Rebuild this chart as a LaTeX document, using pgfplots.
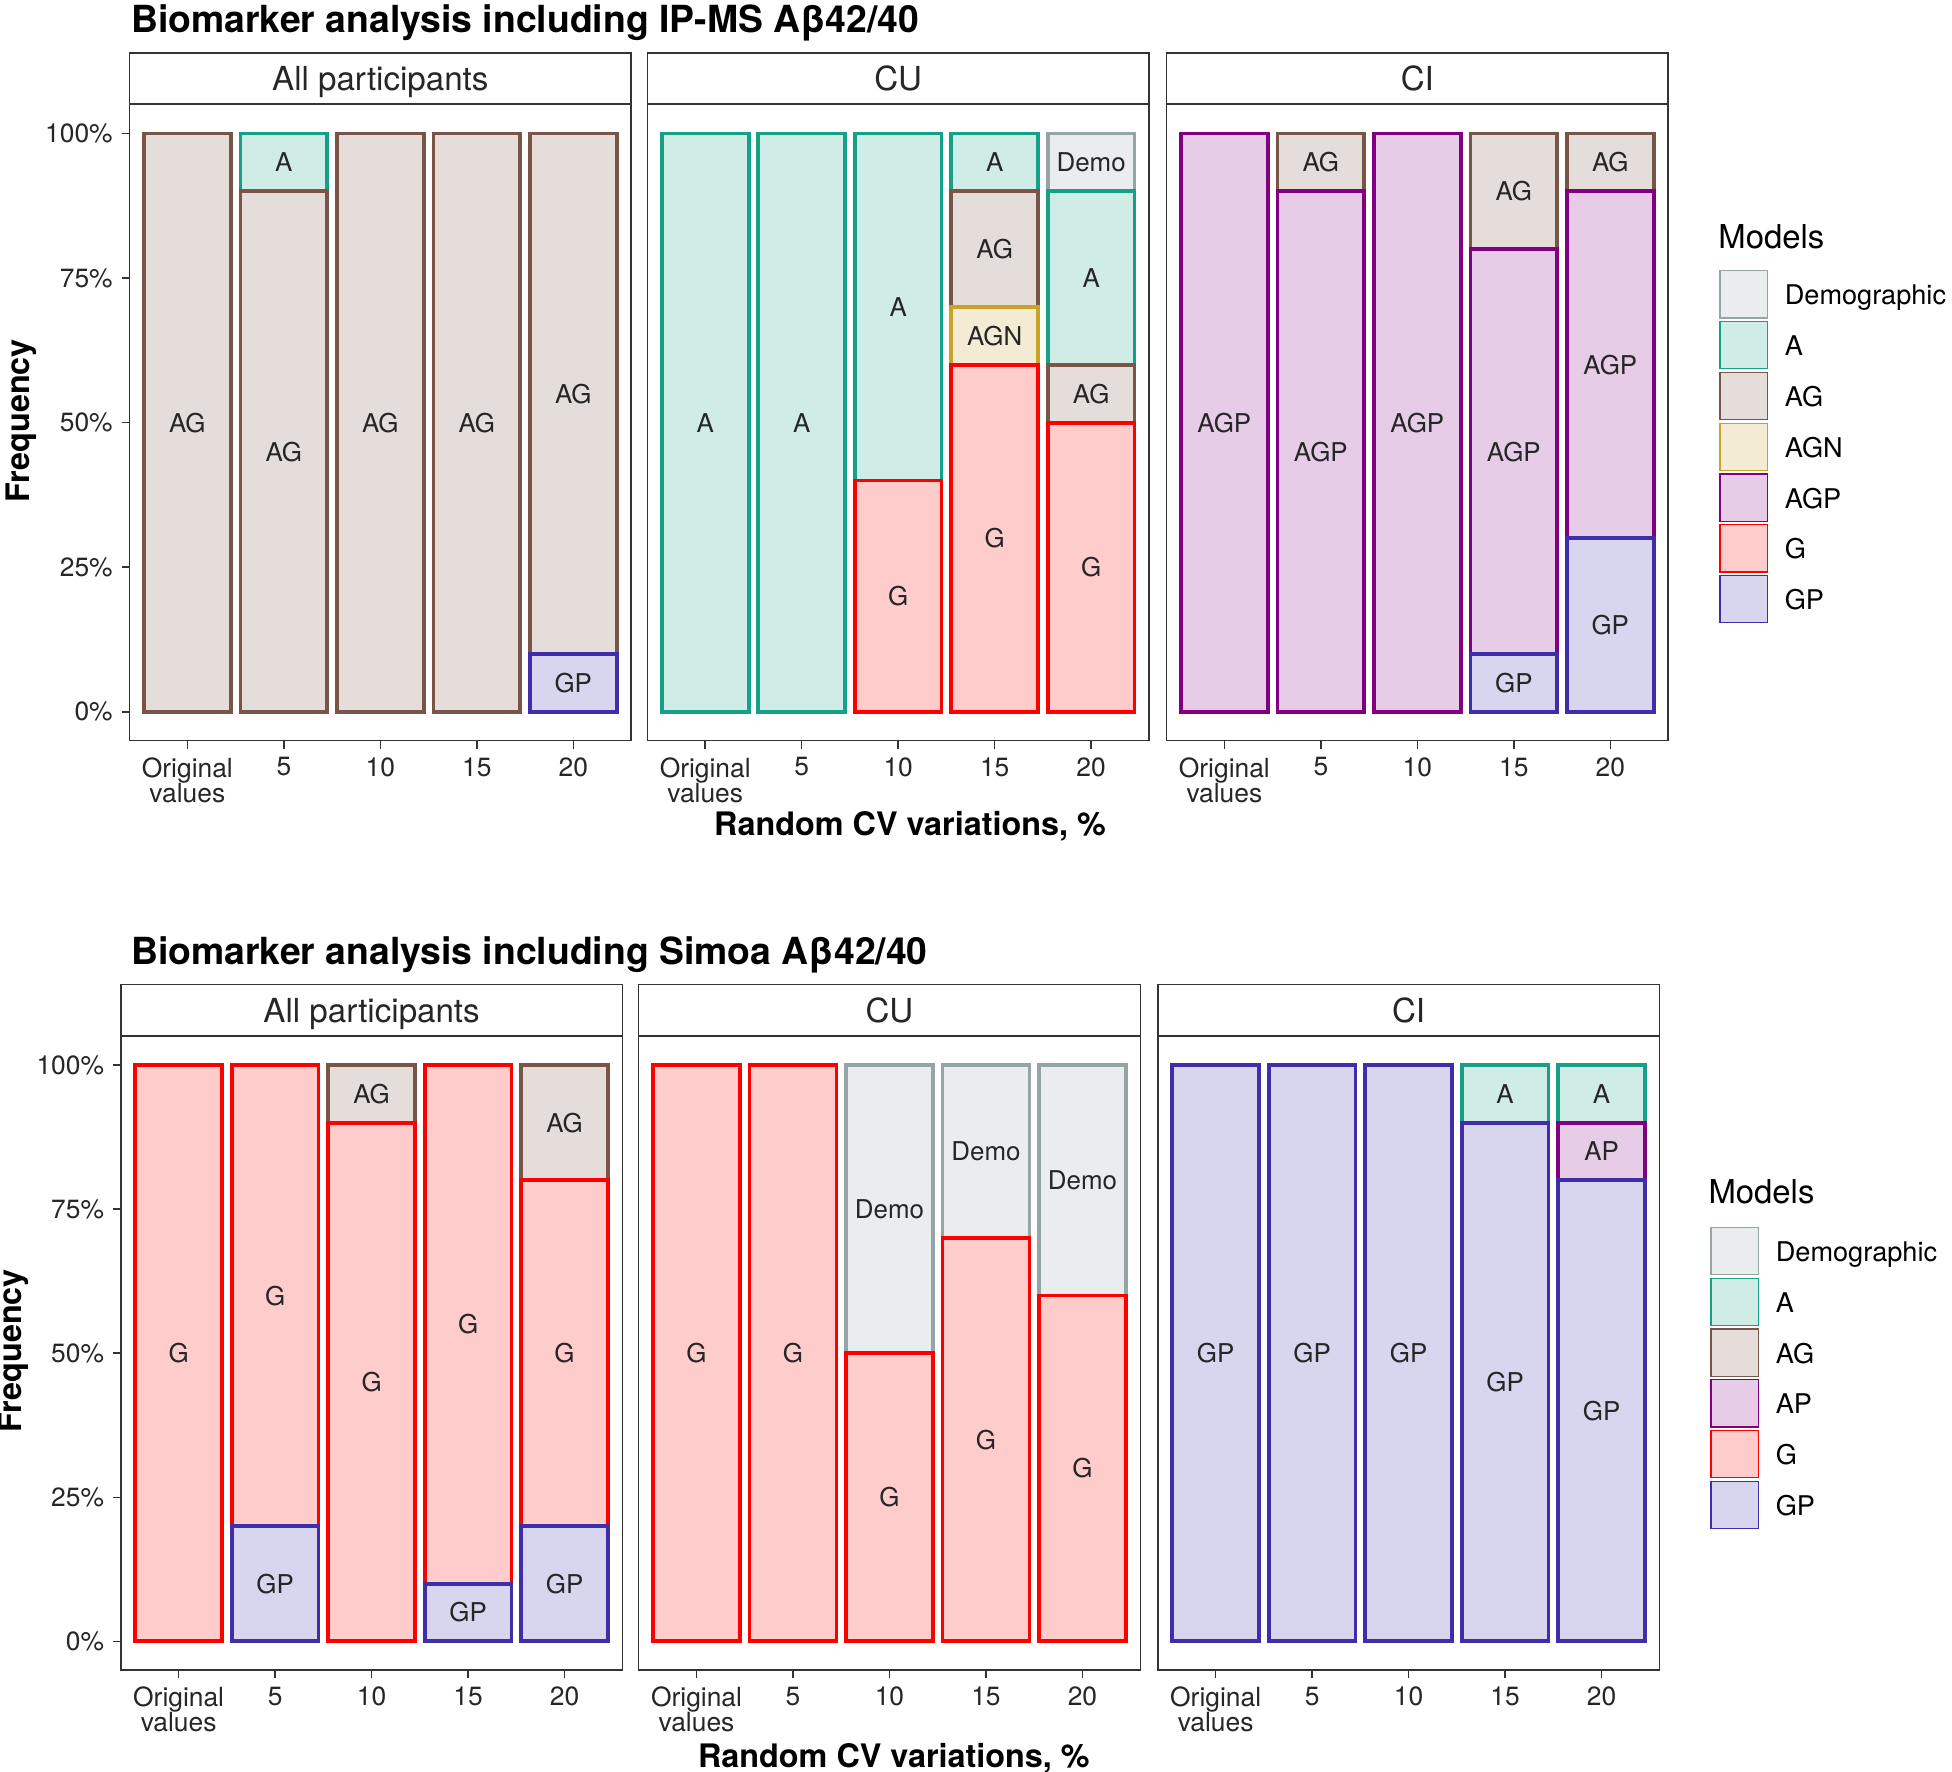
\documentclass[border=0pt]{standalone}
\usepackage{fontspec}
\setmainfont{TeX Gyre Heros}
\usepackage{pgfplots}
\pgfplotsset{compat=1.18}

% model colours: border and light fill
\definecolor{cDemo}{HTML}{95A5A6}\definecolor{fDemo}{HTML}{EAEDED}
\definecolor{cA}{HTML}{16A085}\definecolor{fA}{HTML}{D0ECE6}
\definecolor{cAG}{HTML}{795548}\definecolor{fAG}{HTML}{E4DDDA}
\definecolor{cAGN}{HTML}{C9A227}\definecolor{fAGN}{HTML}{F3EBD4}
\definecolor{cAGP}{HTML}{800080}\definecolor{fAGP}{HTML}{E6CCE6}
\definecolor{cG}{HTML}{FF0000}\definecolor{fG}{HTML}{FFCCCC}
\definecolor{cGP}{HTML}{3F2DAA}\definecolor{fGP}{HTML}{D8D5EE}
\definecolor{frame}{HTML}{333333}
\definecolor{ticktext}{HTML}{262626}

\newcommand{\fs}[1]{\fontsize{#1}{#1}\selectfont}
\newcommand{\tickfont}{\fontsize{10.6}{10}\selectfont\lineskiplimit=-10pt\relax}

\pgfplotsset{
  panel/.style={
    scale only axis, width=201.5pt, anchor=north west,
    xmin=0.4, xmax=5.6, ymin=-0.05, ymax=1.05,
    xtick={1,2,3,4,5}, xticklabels={{Original\\values},5,10,15,20},
    xticklabel style={align=center, text=ticktext, font=\tickfont},
    yticklabel style={font=\fs{10.6}, text=ticktext},
    tick pos=left, tick align=outside, major tick length=3.2pt,
    axis line style={draw=frame, line width=0.6pt},
    tick style={draw=frame, line width=0.6pt},
    every axis title shift=0pt,
    title style={draw=frame, fill=white, line width=0.6pt, minimum width=201.5pt,
      minimum height=20.4pt, inner sep=0pt, anchor=south, at={(0.5,1)}, yshift=0pt,
      text height=9.6pt, text depth=0pt, font=\fs{13.3}, text=ticktext},
    clip=false,
  },
  leftpanel/.style={panel, ytick={0,0.25,0.5,0.75,1},
    yticklabels={0\%,25\%,50\%,75\%,100\%}},
  innerpanel/.style={panel, ytick=\empty},
  seg/.style={ybar, bar width=0.9, bar shift=0pt, line width=1.5pt},
  sDemo/.style={seg, draw=cDemo, fill=fDemo},
  sA/.style={seg, draw=cA, fill=fA},
  sAG/.style={seg, draw=cAG, fill=fAG},
  sAGN/.style={seg, draw=cAGN, fill=fAGN},
  sAGP/.style={seg, draw=cAGP, fill=fAGP},
  sG/.style={seg, draw=cG, fill=fG},
  sGP/.style={seg, draw=cGP, fill=fGP},
  lab/.style={only marks, mark=none, point meta=explicit symbolic,
    nodes near coords, nodes near coords align={center},
    nodes near coords style={font=\fs{10.4}, text=ticktext}},
  keys/.style={
    legend image code/.code={\draw[##1, line width=0.5pt] (0pt,-8.6pt) rectangle (19pt,10.4pt);},
    legend style={at={(1,1)}, anchor=north west, draw=none, fill=none,
      inner sep=0pt, row sep=0.9pt, column sep=6.8pt,
      font=\fs{10.9}, nodes={inner sep=0pt}},
    legend cell align=left,
  },
}

\begin{document}
\begin{tikzpicture}[txt/.style={inner sep=0pt}]
\useasboundingbox (0pt,0pt) rectangle (784pt,-711.5pt);

% ---------------- IP-MS ----------------
\node[txt, anchor=base west, font=\bfseries\fs{15}] at (52.5pt,-12.9pt) {Biomarker analysis including IP-MS Aβ42/40};

\begin{axis}[leftpanel, height=255.5pt, at={(52pt,-42pt)}, title={All participants}]
\addplot[sAG] coordinates {(1,1) (3,1) (4,1) (5,1)};
\addplot[sA] coordinates {(2,1)};
\addplot[sAG] coordinates {(2,0.9)};
\addplot[sGP] coordinates {(5,0.1)};
\addplot[lab] coordinates {(1,0.5)[AG] (2,0.95)[A] (2,0.45)[AG] (3,0.5)[AG] (4,0.5)[AG] (5,0.55)[AG] (5,0.05)[GP]};
\end{axis}

\begin{axis}[innerpanel, height=255.5pt, at={(260pt,-42pt)}, title={CU}]
\addplot[sA] coordinates {(1,1) (2,1) (3,1) (4,1)};
\addplot[sDemo] coordinates {(5,1)};
\addplot[sAG] coordinates {(4,0.9)};
\addplot[sA] coordinates {(5,0.9)};
\addplot[sAGN] coordinates {(4,0.7)};
\addplot[sAG] coordinates {(5,0.6)};
\addplot[sG] coordinates {(3,0.4) (4,0.6) (5,0.5)};
\addplot[lab] coordinates {(1,0.5)[A] (2,0.5)[A] (3,0.7)[A] (3,0.2)[G]
  (4,0.95)[A] (4,0.8)[AG] (4,0.65)[AGN] (4,0.3)[G]
  (5,0.95)[Demo] (5,0.75)[A] (5,0.55)[AG] (5,0.25)[G]};
\end{axis}

\begin{axis}[innerpanel, keys, height=255.5pt, at={(468.5pt,-42pt)}, title={CI},
  legend style={xshift=20.35pt, yshift=-66.3pt}]
\addlegendimage{draw=cDemo, fill=fDemo}\addlegendentry{Demographic}
\addlegendimage{draw=cA, fill=fA}\addlegendentry{A}
\addlegendimage{draw=cAG, fill=fAG}\addlegendentry{AG}
\addlegendimage{draw=cAGN, fill=fAGN}\addlegendentry{AGN}
\addlegendimage{draw=cAGP, fill=fAGP}\addlegendentry{AGP}
\addlegendimage{draw=cG, fill=fG}\addlegendentry{G}
\addlegendimage{draw=cGP, fill=fGP}\addlegendentry{GP}
\addplot[sAGP, forget plot] coordinates {(1,1) (3,1)};
\addplot[sAG, forget plot] coordinates {(2,1) (4,1) (5,1)};
\addplot[sAGP, forget plot] coordinates {(2,0.9) (4,0.8) (5,0.9)};
\addplot[sGP, forget plot] coordinates {(4,0.1) (5,0.3)};
\addplot[lab, forget plot] coordinates {(1,0.5)[AGP] (2,0.95)[AG] (2,0.45)[AGP] (3,0.5)[AGP]
  (4,0.9)[AG] (4,0.45)[AGP] (4,0.05)[GP] (5,0.95)[AG] (5,0.6)[AGP] (5,0.15)[GP]};
\end{axis}

\node[txt, anchor=base west, font=\fs{13.2}] at (690pt,-100pt) {Models};
\node[txt, rotate=90, font=\bfseries\fs{13}] at (8.5pt,-169pt) {Frequency};
\node[txt, anchor=base, font=\bfseries\fs{13}] at (365.5pt,-335.7pt) {Random CV variations, \%};

% ---------------- Simoa ----------------
\node[txt, anchor=base west, font=\bfseries\fs{15}] at (52.5pt,-387.4pt) {Biomarker analysis including Simoa Aβ42/40};

\begin{axis}[leftpanel, height=254.6pt, at={(48.5pt,-416.2pt)}, title={All participants}]
\addplot[sG] coordinates {(1,1) (2,1) (4,1)};
\addplot[sAG] coordinates {(3,1) (5,1)};
\addplot[sG] coordinates {(3,0.9) (5,0.8)};
\addplot[sGP] coordinates {(2,0.2) (4,0.1) (5,0.2)};
\addplot[lab] coordinates {(1,0.5)[G] (2,0.6)[G] (2,0.1)[GP] (3,0.95)[AG] (3,0.45)[G]
  (4,0.55)[G] (4,0.05)[GP] (5,0.9)[AG] (5,0.5)[G] (5,0.1)[GP]};
\end{axis}

\begin{axis}[innerpanel, height=254.6pt, at={(256.5pt,-416.2pt)}, title={CU}]
\addplot[sG] coordinates {(1,1) (2,1)};
\addplot[sDemo] coordinates {(3,1) (4,1) (5,1)};
\addplot[sG] coordinates {(3,0.5) (4,0.7) (5,0.6)};
\addplot[lab] coordinates {(1,0.5)[G] (2,0.5)[G] (3,0.75)[Demo] (3,0.25)[G]
  (4,0.85)[Demo] (4,0.35)[G] (5,0.8)[Demo] (5,0.3)[G]};
\end{axis}

\begin{axis}[innerpanel, keys, height=254.6pt, at={(465pt,-416.2pt)}, title={CI},
  legend style={xshift=20.25pt, yshift=-76.3pt}]
\addlegendimage{draw=cDemo, fill=fDemo}\addlegendentry{Demographic}
\addlegendimage{draw=cA, fill=fA}\addlegendentry{A}
\addlegendimage{draw=cAG, fill=fAG}\addlegendentry{AG}
\addlegendimage{draw=cAGP, fill=fAGP}\addlegendentry{AP}
\addlegendimage{draw=cG, fill=fG}\addlegendentry{G}
\addlegendimage{draw=cGP, fill=fGP}\addlegendentry{GP}
\addplot[sGP, forget plot] coordinates {(1,1) (2,1) (3,1)};
\addplot[sA, forget plot] coordinates {(4,1) (5,1)};
\addplot[sGP, forget plot] coordinates {(4,0.9)};
\addplot[sAGP, forget plot] coordinates {(5,0.9)};
\addplot[sGP, forget plot] coordinates {(5,0.8)};
\addplot[lab, forget plot] coordinates {(1,0.5)[GP] (2,0.5)[GP] (3,0.5)[GP] (4,0.95)[A] (4,0.45)[GP]
  (5,0.95)[A] (5,0.85)[AP] (5,0.4)[GP]};
\end{axis}

\node[txt, anchor=base west, font=\fs{13.2}] at (686pt,-483.5pt) {Models};
\node[txt, rotate=90, font=\bfseries\fs{13}] at (5.5pt,-542.5pt) {Frequency};
\node[txt, anchor=base, font=\bfseries\fs{13}] at (359pt,-709.7pt) {Random CV variations, \%};
\end{tikzpicture}
\end{document}
